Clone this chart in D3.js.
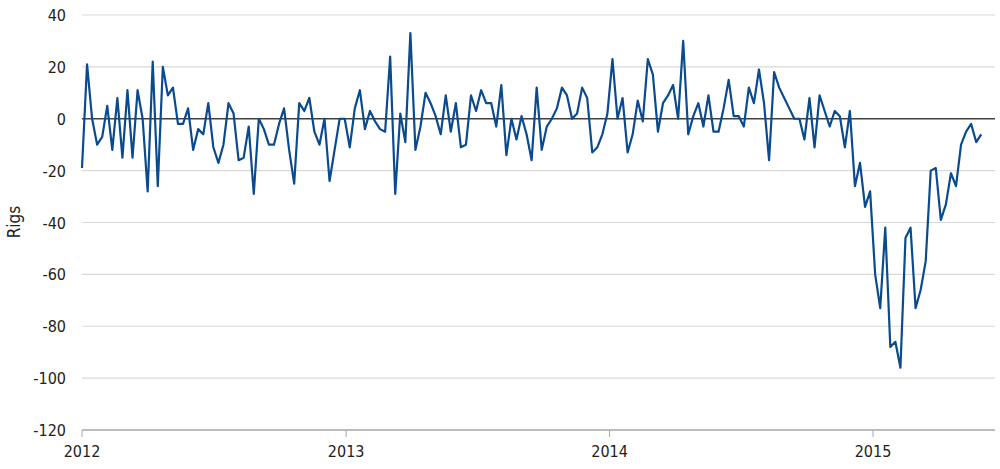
<!DOCTYPE html>
<html><head><meta charset="utf-8">
<script src="https://cdn.jsdelivr.net/npm/d3@7"></script>
<style>body{margin:0;background:#fff}text{font-family:"DejaVu Sans Condensed","DejaVu Sans",sans-serif;font-stretch:condensed}</style>
</head><body><svg id="c" width="1000" height="469"></svg>
<script>
const values=[-19,21,0,-10,-7,5,-12,8,-15,11,-15,11,0,-28,22,-26,20,9,12,-2,-2,4,-12,-4,-6,6,-11,-17,-10,6,2,-16,-15,-3,-29,0,-4,-10,-10,-2,4,-12,-25,6,3,8,-5,-10,0,-24,-12,0,0,-11,4,11,-4,3,-1,-4,-5,24,-29,2,-9,33,-12,-3,10,6,1,-6,9,-5,6,-11,-10,9,3,11,6,6,-3,13,-14,0,-8,1,-6,-16,12,-12,-3,0,4,12,9,0,2,12,8,-13,-11,-6,2,23,0,8,-13,-6,7,-1,23,17,-5,6,9,13,0,30,-6,1,6,-3,9,-5,-5,4,15,1,1,-3,12,6,19,6,-16,18,12,8,4,0,0,-8,8,-11,9,3,-3,3,1,-11,3,-26,-17,-34,-28,-60,-73,-42,-88,-86,-96,-46,-42,-73,-66,-55,-20,-19,-39,-33,-21,-26,-10,-5,-2,-9,-6];
const startDate=new Date(2012,0,1);
const yTicks=[40,20,0,-20,-40,-60,-80,-100,-120];
const xTickYears=[2012,2013,2014,2015];
const data=values.map((v,i)=>({d:d3.timeDay.offset(startDate,i*7),v}));
const svg=d3.select("#c");
const L=82,R=995,T=15,B=430;
const x=d3.scaleTime().domain([new Date(2012,0,1),new Date(2015,6,15)]).range([L,L+(R-L)]);
x.domain([new Date(2012,0,1),x.invert(R)]);
const x2=d3.scaleTime().domain([new Date(2012,0,1),new Date(2015,0,1)]).range([82,873]);
const y=d3.scaleLinear().domain([-120,40]).range([B,T]);
svg.append("g").selectAll("line").data(yTicks.filter(t=>t!==0&&t!==-120)).join("line")
 .attr("x1",L).attr("x2",R).attr("y1",d=>y(d)).attr("y2",d=>y(d)).attr("stroke","#d9d9d9").attr("stroke-width",1.2);
svg.append("line").attr("x1",L).attr("x2",R).attr("y1",y(0)).attr("y2",y(0)).attr("stroke","#404040").attr("stroke-width",1.3);
svg.append("line").attr("x1",L).attr("x2",R).attr("y1",y(-120)).attr("y2",y(-120)).attr("stroke","#a6a6a6").attr("stroke-width",1.3);
svg.append("g").selectAll("line").data(xTickYears).join("line")
 .attr("x1",d=>x2(new Date(d,0,1))).attr("x2",d=>x2(new Date(d,0,1))).attr("y1",B).attr("y2",B+7).attr("stroke","#a6a6a6");
svg.append("g").selectAll("text").data(xTickYears).join("text")
 .attr("x",d=>x2(new Date(d,0,1))).attr("y",B+27).attr("text-anchor","middle").attr("font-size",16).attr("fill","#222").text(d=>d);
svg.append("g").selectAll("text").data(yTicks).join("text")
 .attr("x",L-16).attr("y",d=>y(d)+6).attr("text-anchor","end").attr("font-size",16).attr("fill","#222").text(d=>d);
svg.append("text").attr("transform","translate(20,222) rotate(-90)").attr("text-anchor","middle").attr("font-size",17).attr("fill","#222").text("Rigs");
svg.append("path").datum(data).attr("fill","none").attr("stroke","#0a4a8f").attr("stroke-width",2.2).attr("stroke-linejoin","round")
 .attr("d",d3.line().x(d=>x2(d.d)).y(d=>y(d.v)));
</script></body></html>
